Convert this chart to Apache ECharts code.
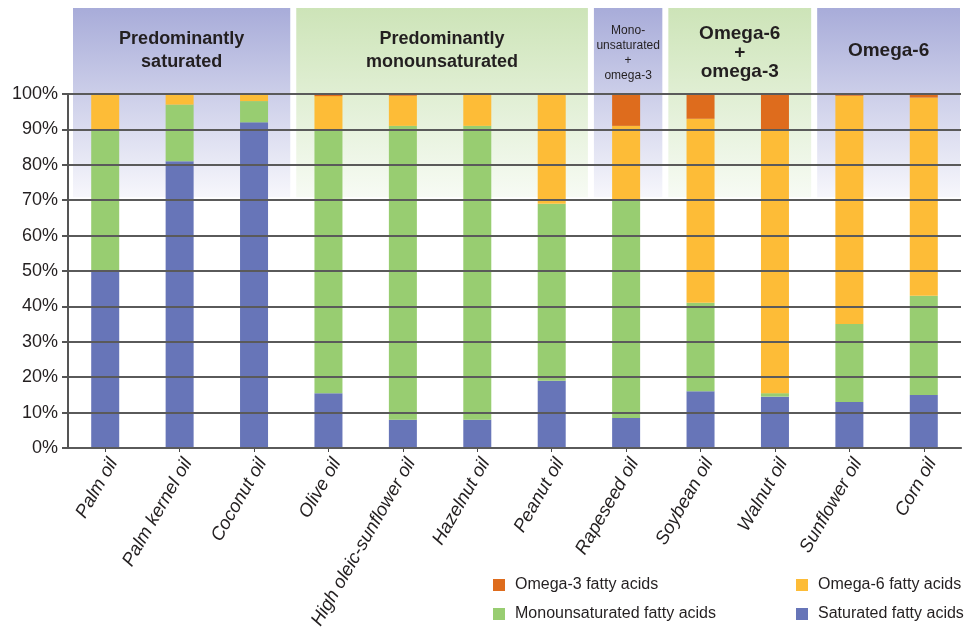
<!DOCTYPE html>
<html>
<head>
<meta charset="utf-8">
<script src="https://cdn.jsdelivr.net/npm/echarts@6/dist/echarts.min.js"></script>
<style>
  html, body { margin: 0; padding: 0; background: #fff; }
  #chart { width: 964px; height: 630px; }
</style>
</head>
<body>
<div id="chart"></div>
<script>
// data (percent of total fat)
var oils = ['Palm oil', 'Palm kernel oil', 'Coconut oil', 'Olive oil', 'High oleic-sunflower oil',
  'Hazelnut oil', 'Peanut oil', 'Rapeseed oil', 'Soybean oil', 'Walnut oil', 'Sunflower oil', 'Corn oil'];
var saturated = [50, 81, 92, 15.5, 8, 8, 19, 8.5, 16, 14.5, 13, 15];
var mono = [40, 16, 6, 74.5, 83, 83, 50, 61.5, 25, 1, 22, 28];
var omega6 = [10, 3, 2, 9.4, 8.5, 9, 31, 21, 52, 74.5, 64.5, 56];
var omega3 = [0, 0, 0, 0.6, 0.5, 0, 0, 9, 7, 10, 0.5, 1];

// header groups over the categories
var groupLabels = ['Predominantly\nsaturated', 'Predominantly\nmonounsaturated',
  'Mono-\nunsaturated\n+\nomega-3', 'Omega-6\n+\nomega-3', 'Omega-6'];
var groupFirst = [0, 3, 7, 8, 10];
var groupLast = [2, 6, 7, 9, 11];

var names = ['Saturated fatty acids', 'Monounsaturated fatty acids', 'Omega-6 fatty acids', 'Omega-3 fatty acids'];
var colors = ['#6775b8', '#98cd71', '#fdbc37', '#de6c1d'];

var textColor = '#231f20';
var sans = '"Liberation Sans", Arial, sans-serif';

var chart = echarts.init(document.getElementById('chart'));

function bar(name, data, color) {
  return {
    name: name,
    type: 'bar',
    stack: 'total',
    barWidth: 28,
    data: data,
    itemStyle: { color: color },
    z: 3
  };
}

var legendText = { fontFamily: sans, fontSize: 16, color: textColor, padding: [0, 0, 0, 5] };

var option = {
  animation: false,
  grid: { left: 68, right: 3, top: 94, bottom: 182, containLabel: false, outerBoundsMode: 'none' },
  legend: [{
    data: ['Omega-3 fatty acids', 'Monounsaturated fatty acids'],
    orient: 'vertical', left: 488, top: 572,
    itemWidth: 12, itemHeight: 12, itemGap: 13, icon: 'rect',
    textStyle: legendText
  }, {
    data: ['Omega-6 fatty acids', 'Saturated fatty acids'],
    orient: 'vertical', left: 791, top: 572,
    itemWidth: 12, itemHeight: 12, itemGap: 13, icon: 'rect',
    textStyle: legendText
  }],
  xAxis: {
    type: 'category',
    data: oils,
    axisLine: { lineStyle: { color: '#444', width: 2 } },
    axisTick: { show: true, alignWithLabel: true, length: 4, lineStyle: { color: '#444' } },
    axisLabel: {
      rotate: 60, margin: 7, fontSize: 18.5, fontStyle: 'italic', verticalAlign: 'top',
      fontFamily: sans, color: textColor
    }
  },
  yAxis: {
    type: 'value',
    min: 0, max: 100, interval: 10,
    axisLine: { show: true, lineStyle: { color: '#555', width: 2 } },
    axisTick: { show: true, length: 6, lineStyle: { color: '#555', width: 2 } },
    axisLabel: {
      formatter: '{value}%', fontSize: 18, margin: 10,
      fontFamily: sans, color: textColor
    },
    splitLine: { lineStyle: { color: '#5a5a5a', width: 2 } },
    z: 4
  },
  series: [
    bar(names[0], saturated, colors[0]),
    bar(names[1], mono, colors[1]),
    bar(names[2], omega6, colors[2]),
    bar(names[3], omega3, colors[3])
  ]
};

chart.setOption(option);

// header boxes, placed from the category axis
var c0 = chart.convertToPixel({ xAxisIndex: 0 }, 0);
var c1 = chart.convertToPixel({ xAxisIndex: 0 }, 1);
var band = c1 - c0;
var yBottom = chart.convertToPixel({ yAxisIndex: 0 }, 70) - 3;
var boxTop = 8;

var fills = [['#a8acd9', '#f7f7fc'], ['#cde4b8', '#f7fbf4']];
var textY = [51, 51, 53, 53, 51];
var fontSizes = [18, 18, 12, 19, 19];
var weights = ['bold', 'bold', 'normal', 'bold', 'bold'];
var lineHeights = [23, 23, 15, 19, 20];

var graphics = [];
for (var g = 0; g < groupLabels.length; g++) {
  var x0 = chart.convertToPixel({ xAxisIndex: 0 }, groupFirst[g]) - band / 2 + 5;
  var x1 = chart.convertToPixel({ xAxisIndex: 0 }, groupLast[g]) + band / 2 - 1;
  var f = fills[g % 2];
  graphics.push({
    type: 'rect',
    z: -10,
    shape: { x: x0, y: boxTop, width: x1 - x0, height: yBottom - boxTop },
    style: {
      fill: {
        type: 'linear', x: 0, y: 0, x2: 0, y2: 1,
        colorStops: [{ offset: 0, color: f[0] }, { offset: 1, color: f[1] }]
      }
    }
  });
  graphics.push({
    type: 'text',
    z: 10,
    x: (x0 + x1) / 2,
    y: textY[g],
    style: {
      text: groupLabels[g],
      align: 'center',
      verticalAlign: 'middle',
      fontFamily: sans,
      fontWeight: weights[g],
      fontSize: fontSizes[g],
      lineHeight: lineHeights[g],
      fill: textColor
    }
  });
}

chart.setOption({ graphic: graphics });
</script>
</body>
</html>
